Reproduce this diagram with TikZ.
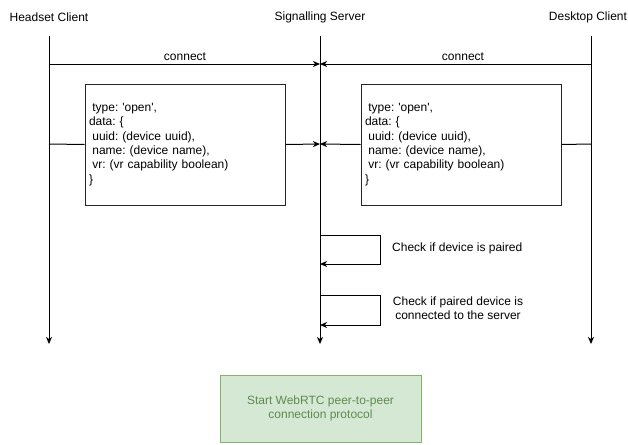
\documentclass[tikz,border=0pt]{standalone}
\usepackage{fontspec}
\setmainfont{Liberation Sans}
\usetikzlibrary{arrows.meta}
\definecolor{greenfill}{HTML}{D5E8D4}
\definecolor{greenline}{HTML}{82B366}
\definecolor{greentext}{HTML}{5E8A4E}
\newcommand\leadsp{\hspace*{0.278em}}
\newcommand\sq{\textquotesingle}
\frenchspacing
\begin{document}
\begin{tikzpicture}[x=1pt,y=-1pt,
  every node/.style={font=\fontsize{12}{14.4}\selectfont, inner sep=0pt},
  lifeline/.style={draw=black, line width=1pt},
  msg/.style={draw=black, line width=1pt, -{Stealth[length=7pt,width=6pt,inset=2pt]}},
  plain/.style={draw=black, line width=1pt},
  payload/.style={draw=black!85, line width=1pt, minimum width=200pt, minimum height=121pt,
    text width=192pt, inner xsep=4pt, align=left},
  actor/.style={anchor=center},
  note/.style={align=center},
  greenbox/.style={draw=greenline, fill=greenfill, line width=1pt, minimum width=201pt,
    minimum height=67pt, align=center, text=greentext}
]
\useasboundingbox (0,0) rectangle (628,444);

% actors
\node[actor] (headset) at (49,17) {Headset Client};
\node[actor] (server) at (320,17) {Signalling Server};
\node[actor] (desktop) at (588,17) {Desktop Client};

% lifelines
\coordinate (hTop) at (49,36);   \coordinate (hBot) at (49,344);
\coordinate (sTop) at (320,36);  \coordinate (sBot) at (320,344);
\coordinate (dTop) at (591,36);  \coordinate (dBot) at (591,344);
\draw[msg] (hTop) -- (hBot);
\draw[msg] (sTop) -- (sBot);
\draw[msg] (dTop) -- (dBot);

% connect messages
\coordinate (hConn) at (49,64);
\coordinate (sConn) at (320,64);
\coordinate (dConn) at (591,64);
\draw[msg] (hConn) -- (sConn);
\draw[msg] (dConn) -- (sConn);
\node (connL) at (185,57) {connect};
\node (connR) at (463,57) {connect};

% open payloads
\node[payload] (openL) at (185,144.5) {\leadsp type: \sq open\sq,\\
data: \{\\
\leadsp uuid: (device uuid),\\
\leadsp name: (device name),\\
\leadsp vr: (vr capability boolean)\\
\}};
\node[payload] (openR) at (461,144.5) {\leadsp type: \sq open\sq,\\
data: \{\\
\leadsp uuid: (device uuid),\\
\leadsp name: (device name),\\
\leadsp vr: (vr capability boolean)\\
\}};

\coordinate (hOpen) at (49,144);
\coordinate (sOpen) at (320,144);
\coordinate (dOpen) at (591,144);
\draw[plain] (hOpen) -- (openL.west);
\draw[msg] (openL.east) -- (sOpen);
\draw[plain] (dOpen) -- (openR.east);
\draw[msg] (openR.west) -- (sOpen);

% server self checks
\coordinate (c1a) at (320,235);
\coordinate (c1b) at (320,264);
\draw[msg] (c1a) -- (380,235) -- (380,264) -- (c1b);
\node[anchor=west] (check1) at (392,248) {Check if device is paired};

\coordinate (c2a) at (320,295);
\coordinate (c2b) at (320,325);
\draw[msg] (c2a) -- (380,295) -- (380,325) -- (c2b);
\node[note] (check2) at (458,308.5) {Check if paired device is\\connected to the server};

% final step
\node[greenbox] (webrtc) at (320.5,408.5) {Start WebRTC peer-to-peer\\connection protocol};
\end{tikzpicture}
\end{document}
